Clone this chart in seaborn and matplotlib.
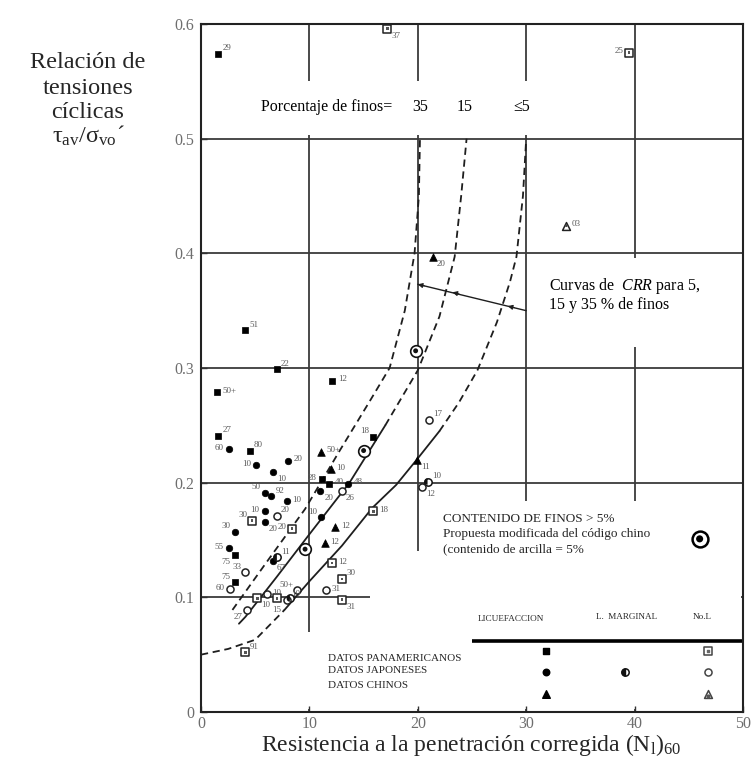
import matplotlib
matplotlib.use("Agg")
import matplotlib.pyplot as plt
from matplotlib.patches import Rectangle
from matplotlib.path import Path
import seaborn as sns

sns.set_theme(style="white")
plt.rcParams["font.family"] = ["Liberation Serif", "DejaVu Serif"]
plt.rcParams["mathtext.fontset"] = "custom"
plt.rcParams["mathtext.rm"] = "Liberation Serif"
plt.rcParams["mathtext.it"] = "Liberation Serif:italic"
plt.rcParams["lines.dashed_pattern"] = [4.0, 2.6]

# --- CRR curves (N1)60 vs cyclic stress ratio -------------------------------
curve35_n = [2.9, 6.0, 9.6, 12.8, 15.5, 17.4, 18.8, 19.7, 20.1, 20.2]
curve35_crr = [0.089, 0.130, 0.177, 0.228, 0.270, 0.300, 0.350, 0.400, 0.450, 0.500]
curve15_n = [3.5, 4.1, 7.0, 10.0, 13.7, 17.0, 20.0, 22.0, 23.4, 24.0, 24.5]
curve15_crr = [0.077, 0.083, 0.118, 0.155, 0.200, 0.250, 0.298, 0.345, 0.397, 0.450, 0.500]
curve5_n = [0.0, 2.5, 5.0, 7.7, 10.0, 13.0, 15.8, 18.0, 19.9, 22.0, 23.8, 25.5,
            27.3, 28.5, 29.1, 29.7, 30.0]
curve5_crr = [0.050, 0.055, 0.063, 0.089, 0.114, 0.145, 0.178, 0.198, 0.220, 0.245,
              0.270, 0.298, 0.340, 0.375, 0.397, 0.450, 0.500]
fines_labels = ["35", "15", "\u22645"]

# --- case histories ---------------------------------------------------------
pa_liq_n = [1.6, 4.1, 7.0, 12.1, 1.5, 1.6, 4.5, 15.9, 11.2, 11.8, 3.1, 3.1]
pa_liq_crr = [0.574, 0.333, 0.299, 0.289, 0.279, 0.241, 0.228, 0.240, 0.203, 0.199, 0.137, 0.113]
pa_liq_lbl = ["29", "51", "22", "12", "50+", "27", "80", "18", "28", "40", "75", "75"]

jp_liq_n = [2.6, 5.1, 6.6, 8.0, 11.0, 13.6, 5.9, 6.5, 7.9, 5.9, 5.9, 3.1, 2.6, 6.6, 11.1]
jp_liq_crr = [0.229, 0.215, 0.209, 0.219, 0.193, 0.199, 0.191, 0.188, 0.184, 0.175,
              0.166, 0.157, 0.143, 0.132, 0.170]
jp_liq_lbl = ["60", "10", "10", "20", "20", "48", "50", "92", "10", "10", "20", "30",
              "55", "67", "10"]

cn_liq_n = [21.4, 11.1, 12.0, 19.9, 12.4, 11.4]
cn_liq_crr = [0.397, 0.227, 0.212, 0.220, 0.161, 0.147]
cn_liq_lbl = ["20", "50+", "10", "11", "12", "12"]

jp_marg_n = [7.0, 20.9, 8.2]
jp_marg_crr = [0.135, 0.201, 0.099]
jp_marg_lbl = ["11", "10", ""]

pa_noliq_n = [17.2, 39.5, 4.7, 8.4, 15.9, 12.1, 13.0, 13.0, 4.1, 5.2, 7.0]
pa_noliq_crr = [0.596, 0.575, 0.167, 0.160, 0.175, 0.130, 0.116, 0.098, 0.052, 0.099, 0.099]
pa_noliq_lbl = ["37", "25", "30", "20", "18", "12", "30", "31", "91", "10", "15"]

jp_noliq_n = [21.0, 20.4, 13.0, 7.0, 4.1, 2.7, 4.2, 6.1, 7.9, 8.9, 11.5]
jp_noliq_crr = [0.255, 0.196, 0.193, 0.171, 0.122, 0.107, 0.089, 0.103, 0.098, 0.106, 0.106]
jp_noliq_lbl = ["17", "12", "26", "20", "33", "60", "27", "10", "10", "50+", "31"]

cn_noliq_n = [33.7]
cn_noliq_crr = [0.424]
cn_noliq_lbl = ["03"]

mod_n = [19.8, 15.0, 9.6]
mod_crr = [0.315, 0.228, 0.142]

x_ticks = [0, 10, 20, 30, 40, 50]
y_ticks = [0, 0.1, 0.2, 0.3, 0.4, 0.5, 0.6]
y_tick_labels = ["0", "0.1", "0.2", "0.3", "0.4", "0.5", "0.6"]

# label placement for the case numbers (text layout only)
pa_liq_side = ["ur", "ur", "ur", "r", "r", "ur", "ur", "ul", "l", "r", "dl", "ul"]
jp_liq_side = ["l", "l", "dr", "r", "dr", "r", "ul", "ur", "r", "l", "dr", "ul", "l", "dr", "ul"]
cn_liq_side = ["dr", "r", "r", "dr", "r", "r"]
jp_marg_side = ["ur", "ur", "r"]
pa_noliq_side = ["dr", "l", "ul", "l", "r", "r", "ur", "dr", "ur", "dr", "d"]
jp_noliq_side = ["ur", "dr", "dr", "ur", "ul", "l", "dl", "r", "ur", "ul", "r"]
cn_noliq_side = ["r"]

SIDE = {"r": (4, 1, "left"), "l": (-4, 1, "right"), "ur": (3, 4, "left"),
        "ul": (-3, 4, "right"), "dr": (3, -5, "left"), "dl": (-3, -5, "right"),
        "u": (0, 6, "center"), "d": (0, -8, "center")}

INK = "#1e1e1e"
GRID = "#3a3a3a"

fig = plt.figure(figsize=(7.52, 7.69), dpi=100)
ax = fig.add_axes([201 / 752, 1 - 712 / 769, (743 - 201) / 752, (712 - 24) / 769])
ax.set_xlim(0, 50)
ax.set_ylim(0, 0.6)
ax.set_axisbelow(False)

# grid drawn by hand so the text panels can sit on top of it
for yv in y_ticks[1:-1]:
    ax.axhline(yv, color=GRID, lw=1.3, zorder=1)
for xv in x_ticks[1:-1]:
    ax.axvline(xv, color=GRID, lw=1.3, zorder=1)

# blank panels holding the annotations and the legend
for (x0, y0, x1, y1) in [(0.25, 0.503, 35.0, 0.55),
                         (30.12, 0.318, 49.85, 0.396),
                         (20.2, 0.003, 49.85, 0.184),
                         (15.6, 0.003, 20.2, 0.14),
                         (6.0, 0.003, 15.6, 0.07)]:
    ax.add_patch(Rectangle((x0, y0), x1 - x0, y1 - y0, facecolor="white",
                           edgecolor="none", zorder=1.5))


def curve(xs, ys, ls):
    sns.lineplot(x=xs, y=ys, ax=ax, sort=False, estimator=None, color=INK,
                 lw=1.3, linestyle=ls, zorder=2)


curve(curve35_n, curve35_crr, "--")
curve(curve15_n[:6], curve15_crr[:6], "-")
curve(curve15_n[5:], curve15_crr[5:], "--")
curve(curve5_n[:4], curve5_crr[:4], "--")
curve(curve5_n[3:10], curve5_crr[3:10], "-")
curve(curve5_n[9:], curve5_crr[9:], "--")

# arrow from the CRR note onto the three curves
arrow_n = [30.0, 20.0]
arrow_crr = [0.350, 0.373]
head_n = [20.0, 23.2, 28.3]
head_crr = [0.373, 0.366, 0.354]
ax.plot(arrow_n, arrow_crr, color=INK, lw=1.0, zorder=2)
for hx, hy in zip(head_n, head_crr):
    ax.annotate("", xy=(hx, hy), xytext=(hx + 0.6, hy - 0.0014),
                arrowprops=dict(arrowstyle="-|>", color=INK, lw=0.8,
                                mutation_scale=7, shrinkA=0, shrinkB=0), zorder=3)

half_disc = Path.wedge(90, 270)


def points(xs, ys, kind, s):
    if kind == "fsq":
        sns.scatterplot(x=xs, y=ys, ax=ax, marker="s", color="black", s=s,
                        edgecolor="black", linewidth=0.5, zorder=3)
    elif kind == "fci":
        sns.scatterplot(x=xs, y=ys, ax=ax, marker="o", color="black", s=s,
                        edgecolor="black", linewidth=0.5, zorder=3)
    elif kind == "ftr":
        sns.scatterplot(x=xs, y=ys, ax=ax, marker="^", color="black", s=s,
                        edgecolor="black", linewidth=0.5, zorder=3)
    elif kind == "osq":
        sns.scatterplot(x=xs, y=ys, ax=ax, marker="s", color="white", s=s,
                        edgecolor="#222222", linewidth=1.1, zorder=3)
        sns.scatterplot(x=xs, y=ys, ax=ax, marker="s", color="#555555", s=s * 0.12,
                        edgecolor="none", linewidth=0, zorder=3.1)
    elif kind == "oci":
        sns.scatterplot(x=xs, y=ys, ax=ax, marker="o", color="white", s=s,
                        edgecolor="#222222", linewidth=1.1, zorder=3)
    elif kind == "otr":
        sns.scatterplot(x=xs, y=ys, ax=ax, marker="^", color="white", s=s,
                        edgecolor="#222222", linewidth=1.1, zorder=3)
        sns.scatterplot(x=xs, y=ys, ax=ax, marker="o", color="#444444", s=s * 0.1,
                        edgecolor="none", linewidth=0, zorder=3.1)
    elif kind == "half":
        sns.scatterplot(x=xs, y=ys, ax=ax, marker="o", color="white", s=s,
                        edgecolor="#111111", linewidth=1.1, zorder=3)
        sns.scatterplot(x=xs, y=ys, ax=ax, marker=half_disc, color="#111111", s=s * 0.8,
                        edgecolor="none", linewidth=0, zorder=3.1)
    elif kind == "dot":
        sns.scatterplot(x=xs, y=ys, ax=ax, marker="o", color="white", s=s,
                        edgecolor="#111111", linewidth=1.2, zorder=3)
        sns.scatterplot(x=xs, y=ys, ax=ax, marker="o", color="#111111", s=s * 0.18,
                        edgecolor="none", linewidth=0, zorder=3.1)


def tags(xs, ys, labels, sides):
    for xv, yv, t, sd in zip(xs, ys, labels, sides):
        if not t:
            continue
        dx, dy, ha = SIDE[sd]
        ax.annotate(t, (xv, yv), xytext=(dx, dy), textcoords="offset points",
                    ha=ha, va="center", fontsize=6.5, color="#5a5a5a", zorder=4)


points(pa_liq_n, pa_liq_crr, "fsq", 22)
points(jp_liq_n, jp_liq_crr, "fci", 22)
points(cn_liq_n, cn_liq_crr, "ftr", 30)
points(jp_marg_n, jp_marg_crr, "half", 28)
points(pa_noliq_n, pa_noliq_crr, "osq", 30)
points(jp_noliq_n, jp_noliq_crr, "oci", 26)
points(cn_noliq_n, cn_noliq_crr, "otr", 32)
points(mod_n, mod_crr, "dot", 70)

tags(pa_liq_n, pa_liq_crr, pa_liq_lbl, pa_liq_side)
tags(jp_liq_n, jp_liq_crr, jp_liq_lbl, jp_liq_side)
tags(cn_liq_n, cn_liq_crr, cn_liq_lbl, cn_liq_side)
tags(jp_marg_n, jp_marg_crr, jp_marg_lbl, jp_marg_side)
tags(pa_noliq_n, pa_noliq_crr, pa_noliq_lbl, pa_noliq_side)
tags(jp_noliq_n, jp_noliq_crr, jp_noliq_lbl, jp_noliq_side)
tags(cn_noliq_n, cn_noliq_crr, cn_noliq_lbl, cn_noliq_side)

# fines-content header above the curve tips
ax.text(5.5, 0.528, "Porcentaje de finos=", fontsize=11.5, ha="left", va="center",
        color="black", zorder=4)
for xv, t in zip([20.2, 24.3, 29.6], fines_labels):
    ax.text(xv, 0.528, t, fontsize=11.5, ha="center", va="center", color="black", zorder=4)

ax.text(32.1, 0.364, "Curvas de  $\\mathit{CRR}$ para 5,\n15 y 35 % de finos",
        fontsize=11.5, ha="left", va="center", linespacing=1.05, color="black", zorder=4)

ax.text(22.3, 0.168, "CONTENIDO DE FINOS > 5%", fontsize=9.5, ha="left", va="center", zorder=4)
ax.text(22.3, 0.155, "Propuesta modificada del c\u00f3digo chino", fontsize=9.5,
        ha="left", va="center", zorder=4)
ax.text(22.3, 0.142, "(contenido de arcilla = 5%", fontsize=9.5, ha="left", va="center", zorder=4)
ax.scatter([46.0], [0.151], marker="o", s=130, facecolor="white", edgecolor="black",
           linewidth=1.8, zorder=4)
ax.scatter([46.0], [0.151], marker="o", s=26, facecolor="black", edgecolor="none", zorder=4.1)

# legend table
ax.text(28.6, 0.081, "LICUEFACCION", fontsize=6.6, ha="center", va="center", zorder=4)
ax.text(39.3, 0.083, "L.  MARGINAL", fontsize=6.6, ha="center", va="center", zorder=4)
ax.text(46.2, 0.083, "No.L", fontsize=6.6, ha="center", va="center", zorder=4)
ax.plot([25.0, 50.0], [0.062, 0.062], color="black", lw=2.6, zorder=4,
        solid_capstyle="butt")
ax.text(11.7, 0.047, "DATOS PANAMERICANOS", fontsize=8, ha="left", va="center", zorder=4)
ax.text(11.7, 0.036, "DATOS JAPONESES", fontsize=8, ha="left", va="center", zorder=4)
ax.text(11.7, 0.023, "DATOS CHINOS", fontsize=8, ha="left", va="center", zorder=4)

leg_style = dict(zorder=4.5, clip_on=False)
ax.scatter([31.8], [0.053], marker="s", s=22, color="black", **leg_style)
ax.scatter([31.8], [0.035], marker="o", s=22, color="black", **leg_style)
ax.scatter([31.8], [0.016], marker="^", s=30, color="black", **leg_style)
ax.scatter([39.1], [0.035], marker="o", s=28, facecolor="white", edgecolor="#111111",
           linewidth=1.1, **leg_style)
ax.scatter([39.1], [0.035], marker=half_disc, s=22, color="#111111", **leg_style)
ax.scatter([46.8], [0.053], marker="s", s=30, facecolor="white", edgecolor="#444444",
           linewidth=1.1, **leg_style)
ax.scatter([46.8], [0.053], marker="s", s=4, color="#666666", **leg_style)
ax.scatter([46.8], [0.035], marker="o", s=26, facecolor="white", edgecolor="#444444",
           linewidth=1.1, **leg_style)
ax.scatter([46.8], [0.016], marker="^", s=32, facecolor="white", edgecolor="#444444",
           linewidth=1.1, **leg_style)
ax.scatter([46.8], [0.014], marker="o", s=4, color="#555555", **leg_style)

# axes frame and ticks
for sp in ax.spines.values():
    sp.set_color("#222222")
    sp.set_linewidth(1.5)
    sp.set_zorder(5)
ax.set_xticks(x_ticks)
ax.set_xticklabels([str(v) for v in x_ticks])
ax.set_yticks(y_ticks)
ax.set_yticklabels(y_tick_labels)
ax.tick_params(axis="both", direction="in", length=4, width=1.0, color="#333333",
               labelsize=11.5, labelcolor="#6e6e6e", bottom=True, left=True,
               top=False, right=False)
ax.tick_params(axis="x", pad=3)
ax.tick_params(axis="y", pad=5)
ax.set_xlabel("")
ax.set_ylabel("")

# axis titles
fig.text(471 / 752, 1 - 745 / 769,
         "Resistencia a la penetraci\u00f3n corregida (N$_{\\mathrm{l}}$)$_{60}$",
         fontsize=17, ha="center", va="center")
for ypx, t in zip([63, 88, 112, 136],
                  ["Relaci\u00f3n de", "tensiones", "c\u00edclicas",
                   "\u03c4$_{\\mathrm{av}}$/\u03c3$_{\\mathrm{vo}}$\u00b4"]):
    fig.text(88 / 752, 1 - ypx / 769, t, fontsize=17.5, ha="center", va="center")

fig.savefig("out.png", dpi=100, facecolor="white")
